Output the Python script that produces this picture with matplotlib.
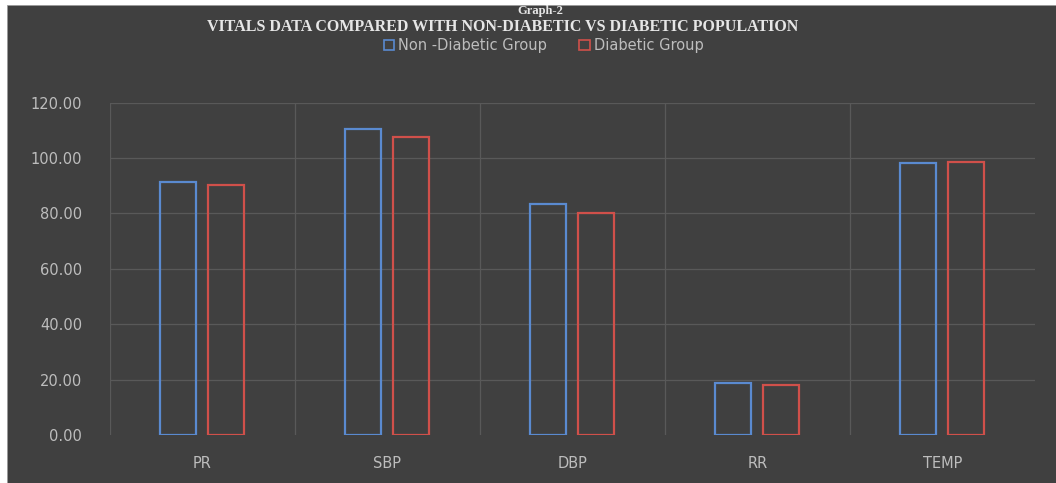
import numpy as np
import matplotlib.pyplot as plt
from matplotlib.patches import Patch, Rectangle

categories = ["PR", "SBP", "DBP", "RR", "TEMP"]
non_diabetic = [91.4, 110.5, 83.4, 18.8, 98.4]
diabetic = [90.2, 107.6, 80.2, 18.1, 98.6]
y_ticks = [0, 20, 40, 60, 80, 100, 120]

BG = "#404040"
GRID = "#595959"
TEXT = "#bdbdbd"
BLUE = "#5a8ad0"
RED = "#d0504a"

fig = plt.figure(figsize=(10.56, 4.83), dpi=100, facecolor="white")
# dark chart area sitting inside a thin white page margin
fig.patches.append(Rectangle((7 / 1056, 0), 1 - 7 / 1056, 1 - 5 / 483,
                             transform=fig.transFigure, facecolor=BG,
                             edgecolor="#9a9a9a", linewidth=0.6, zorder=-10))

ax = fig.add_axes([0.104, 0.0994, 0.876, 0.688])
ax.set_facecolor(BG)

x = np.arange(len(categories))
w = 0.195
off = 0.13
ax.bar(x - off, non_diabetic, w, fill=False, edgecolor=BLUE, linewidth=1.6, zorder=3)
ax.bar(x + off, diabetic, w, fill=False, edgecolor=RED, linewidth=1.6, zorder=3)

ax.set_xlim(-0.5, len(categories) - 0.5)
ax.set_ylim(0, 120)
ax.set_yticks(y_ticks)
ax.set_yticklabels([f"{v:.2f}" for v in y_ticks])
ax.set_xticks(x)
ax.set_xticklabels(categories)
ax.tick_params(axis="both", length=0, colors=TEXT, labelsize=10.5)
ax.tick_params(axis="y", pad=20)
ax.tick_params(axis="x", pad=15)

# horizontal value gridlines and vertical category separators
for v in y_ticks[1:]:
    ax.axhline(v, color=GRID, linewidth=0.9, zorder=1)
for b in np.arange(0.5, len(categories) - 0.5):
    ax.axvline(b, color=GRID, linewidth=0.9, zorder=1)
ax.axvline(-0.5, color=GRID, linewidth=0.9, zorder=1)

for s in ax.spines.values():
    s.set_visible(False)

fig.text(0.512, 0.977, "Graph-2", ha="center", va="center", color="#e6e6e6",
         fontsize=9, fontweight="bold", family="Liberation Serif")
fig.text(0.476, 0.944, "VITALS DATA COMPARED WITH NON-DIABETIC VS DIABETIC POPULATION",
         ha="center", va="center", color="#e6e6e6", fontsize=11.5,
         fontweight="bold", family="Liberation Serif")

handles = [Patch(facecolor="none", edgecolor=BLUE, linewidth=1.2, label="Non -Diabetic Group"),
           Patch(facecolor="none", edgecolor=RED, linewidth=1.2, label="Diabetic Group")]
leg = fig.legend(handles=handles, loc="center", bbox_to_anchor=(0.515, 0.906), ncol=2,
                 frameon=False, fontsize=10.5, handlelength=0.7, handleheight=0.7,
                 handletextpad=0.3, columnspacing=2.2)
for t in leg.get_texts():
    t.set_color(TEXT)

fig.savefig("out.png", dpi=100, facecolor=fig.get_facecolor())
